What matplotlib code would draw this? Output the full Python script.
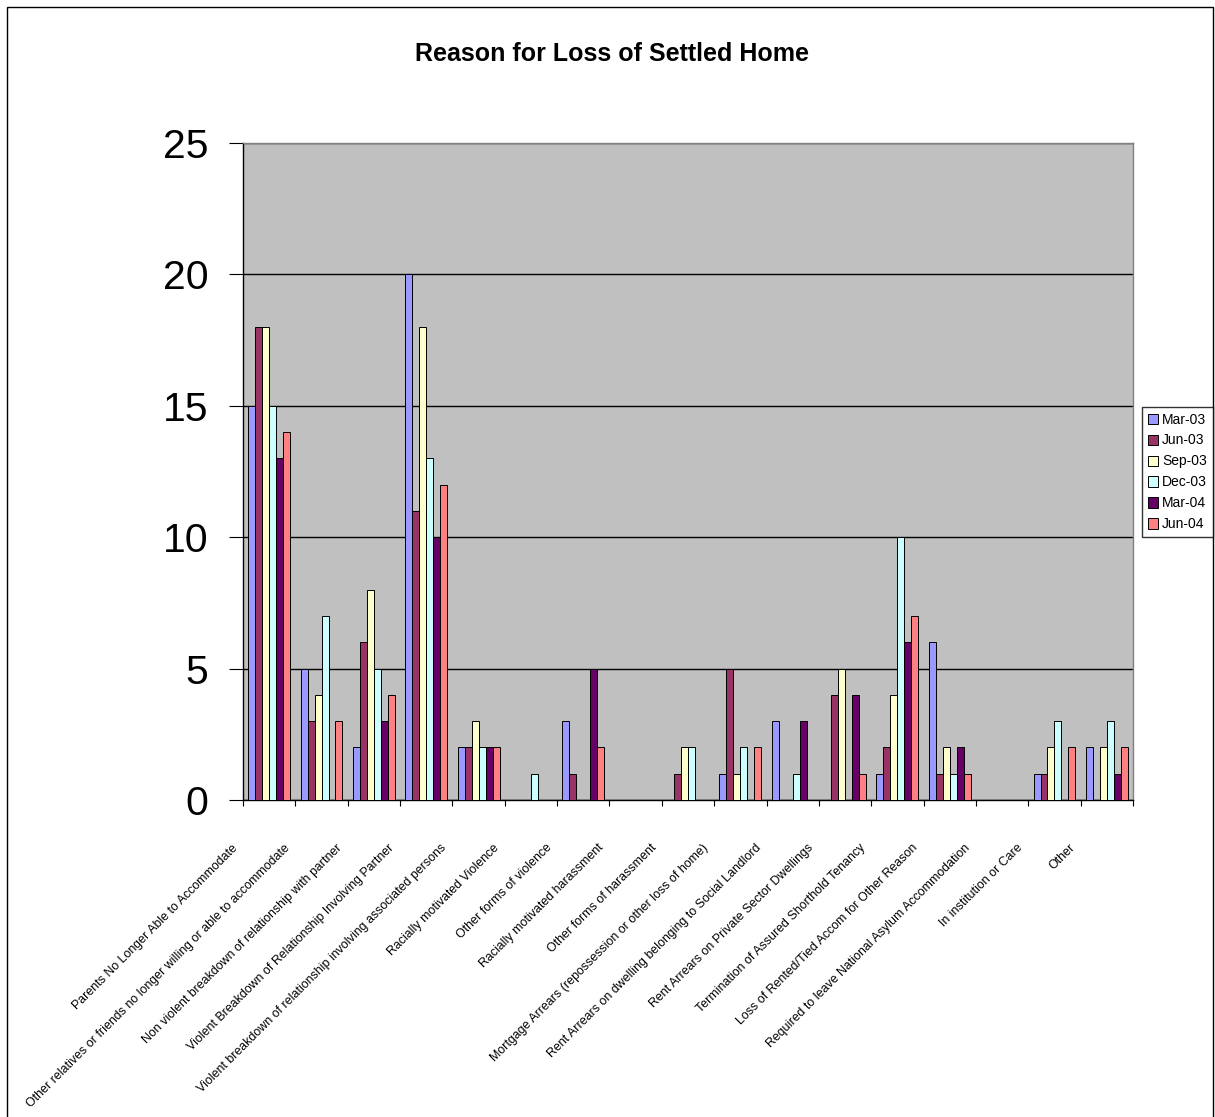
import matplotlib
matplotlib.use("Agg")
import matplotlib.pyplot as plt
import numpy as np
from matplotlib.patches import Rectangle
from matplotlib.transforms import ScaledTranslation, blended_transform_factory

# ---- data -------------------------------------------------------------
categories = [
    "Parents No Longer Able to Accommodate",
    "Other relatives or friends no longer willing or able to accommodate",
    "Non violent breakdown of relationship with partner",
    "Violent Breakdown of Relationship Involving Partner",
    "Violent breakdown of relationship involving associated persons",
    "Racially motivated Violence",
    "Other forms of violence",
    "Racially motivated harassment",
    "Other forms of harassment",
    "Mortgage Arrears (repossession or other loss of home)",
    "Rent Arrears on dwelling belonging to Social Landlord",
    "Rent Arrears on Private Sector Dwellings",
    "Termination of Assured Shorthold Tenancy",
    "Loss of Rented/Tied Accom for Other Reason",
    "Required to leave National Asylum Accommodation",
    "In institution or Care",
    "Other",
]
series_names = ["Mar-03", "Jun-03", "Sep-03", "Dec-03", "Mar-04", "Jun-04"]
mar03 = [15, 5, 2, 20, 2, 0, 3, 0, 0, 1, 3, 0, 1, 6, 0, 1, 2]
jun03 = [18, 3, 6, 11, 2, 0, 1, 0, 1, 5, 0, 4, 2, 1, 0, 1, 0]
sep03 = [18, 4, 8, 18, 3, 0, 0, 0, 2, 1, 0, 5, 4, 2, 0, 2, 2]
dec03 = [15, 7, 5, 13, 2, 1, 0, 0, 2, 2, 1, 0, 10, 1, 0, 3, 3]
mar04 = [13, 0, 3, 10, 2, 0, 5, 0, 0, 0, 3, 4, 6, 2, 0, 0, 1]
jun04 = [14, 3, 4, 12, 2, 0, 2, 0, 0, 2, 0, 1, 7, 1, 0, 2, 2]
y_ticks = [0, 5, 10, 15, 20, 25]
title = "Reason for Loss of Settled Home"

series_values = [mar03, jun03, sep03, dec03, mar04, jun04]
colors = ["#9999FF", "#993366", "#FFFFCC", "#CCFFFF", "#660066", "#FF8080"]

# ---- figure layout ----------------------------------------------------
W, H, DPI = 1215, 1117, 100
plt.rcParams["font.family"] = ["Liberation Sans", "DejaVu Sans"]
fig = plt.figure(figsize=(W / DPI, H / DPI), dpi=DPI)
fig.patch.set_facecolor("white")

# outer chart frame
fig.patches.append(Rectangle((7 / W, -0.02), (1213 - 7) / W, 1 - 7 / H + 0.02,
                             transform=fig.transFigure, fill=False,
                             edgecolor="black", linewidth=1.0))

left, right, top, bottom = 243, 1133, 143, 800
ax = fig.add_axes([left / W, 1 - bottom / H, (right - left) / W, (bottom - top) / H])
ax.set_facecolor("#C0C0C0")

n_cat = len(categories)
n_ser = len(series_values)
bar_w = 1.0 / (n_ser + 1.5)          # 150% gap width between clusters
x0 = np.arange(n_cat)

for j, (vals, col, name) in enumerate(zip(series_values, colors, series_names)):
    xs = x0 + 0.75 * bar_w + j * bar_w
    ax.bar(xs, vals, width=bar_w, align="edge", color=col,
           edgecolor="black", linewidth=0.7, label=name, zorder=3)

ax.set_xlim(0, n_cat)
ax.set_ylim(0, 25)
ax.set_yticks(y_ticks)
ax.set_yticklabels([str(v) for v in y_ticks], fontsize=29.5)
ax.yaxis.grid(True, color="black", linewidth=1.0, zorder=1)
ax.set_axisbelow(True)
ax.tick_params(axis="y", direction="out", length=10, width=0.8, pad=15, colors="black")

# ticks between category clusters, labels drawn separately
ax.set_xticks(np.arange(n_cat + 1))
ax.set_xticklabels([])
ax.tick_params(axis="x", direction="out", length=4.3, width=0.8, colors="black")

for side in ("left", "bottom"):
    ax.spines[side].set_color("black")
    ax.spines[side].set_linewidth(1.0)
for side in ("top", "right"):
    ax.spines[side].set_color("#808080")
    ax.spines[side].set_linewidth(1.0)

# rotated category labels
trans = blended_transform_factory(ax.transData, ax.transAxes)
offset = ScaledTranslation(-38 / DPI, -42 / DPI, fig.dpi_scale_trans)
for i, lab in enumerate(categories):
    ax.text(i + 0.5, 0, lab, transform=trans + offset, rotation=45,
            rotation_mode="anchor", ha="right", va="top", fontsize=8.9)

fig.text(612 / W, 1 - 54 / H, title, ha="center", va="center",
         fontsize=18, fontweight="bold")

leg = fig.legend(loc="upper left", bbox_to_anchor=(1142 / W, 1 - 407 / H),
                 bbox_transform=fig.transFigure, borderaxespad=0,
                 fontsize=10, frameon=True, fancybox=False, shadow=False,
                 handlelength=0.75, handleheight=0.75, handletextpad=0.3,
                 labelspacing=0.5, borderpad=0.4)
leg.get_frame().set_edgecolor("black")
leg.get_frame().set_linewidth(1.0)

fig.savefig("out.png", dpi=DPI, facecolor="white")
